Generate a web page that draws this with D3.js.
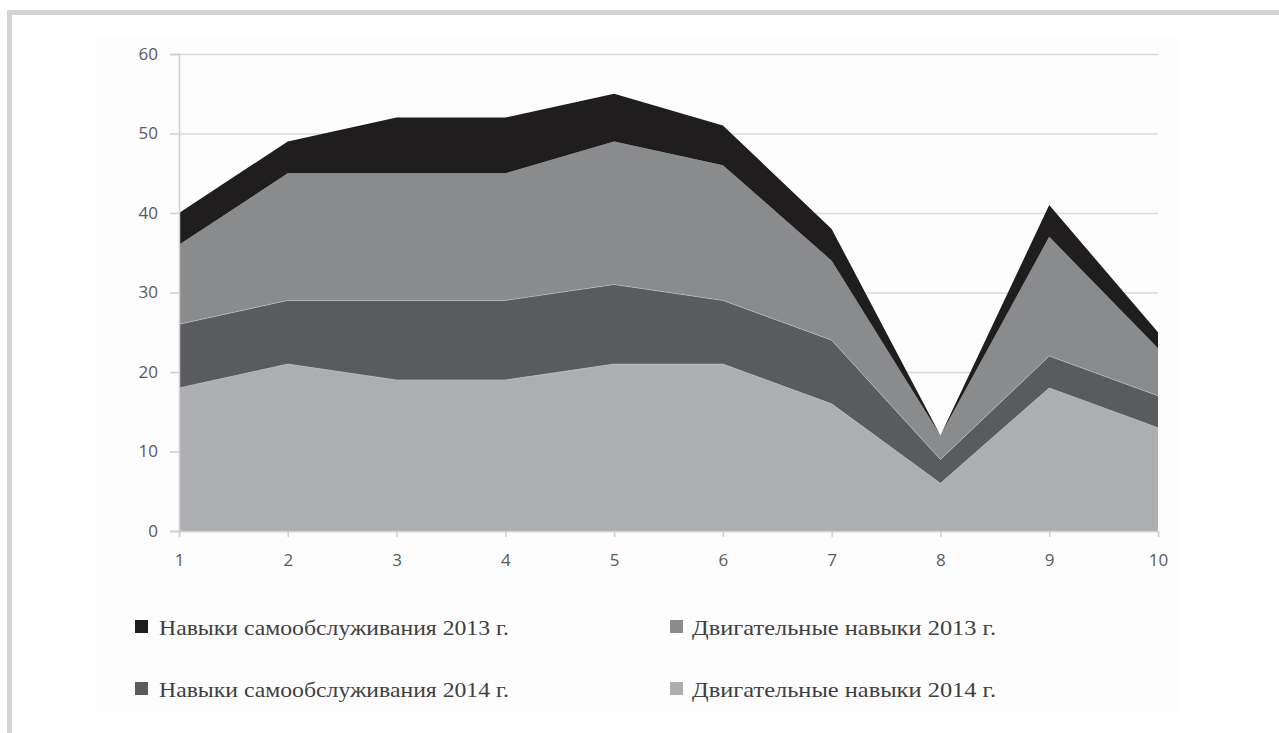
<!DOCTYPE html>
<html>
<head>
<meta charset="utf-8">
<script src="https://cdn.jsdelivr.net/npm/d3@7"></script>
<style>
  html, body { margin: 0; padding: 0; background: #ffffff; }
  svg { display: block; }
</style>
</head>
<body>
<svg id="chart" width="1279" height="733"></svg>
<script>
// Groups on the horizontal axis
const groups = [1, 2, 3, 4, 5, 6, 7, 8, 9, 10];

// Series values (stacked bottom to top)
const motor2014 = [18, 21, 19, 19, 21, 21, 16, 6, 18, 13];
const selfCare2014 = [8, 8, 10, 10, 10, 8, 8, 3, 4, 4];
const motor2013 = [10, 16, 16, 16, 18, 17, 10, 3, 15, 6];
const selfCare2013 = [4, 4, 7, 7, 6, 5, 4, 0, 4, 2];

const yTicks = [0, 10, 20, 30, 40, 50, 60];

const seriesNames = {
  motor2014: "Двигательные навыки 2014 г.",
  selfCare2014: "Навыки самообслуживания 2014 г.",
  motor2013: "Двигательные навыки 2013 г.",
  selfCare2013: "Навыки самообслуживания 2013 г."
};
const seriesColors = {
  motor2014: "#adaeb1",
  selfCare2014: "#5a5b5e",
  motor2013: "#8a8b8d",
  selfCare2013: "#1f1d1e"
};
const stackKeys = ["motor2014", "selfCare2014", "motor2013", "selfCare2013"];

const rows = groups.map((g, i) => ({
  group: g,
  motor2014: motor2014[i],
  selfCare2014: selfCare2014[i],
  motor2013: motor2013[i],
  selfCare2013: selfCare2013[i]
}));

const svg = d3.select("#chart");

// outer frame
svg.append("rect").attr("x", 0).attr("y", 0).attr("width", 1279).attr("height", 733).attr("fill", "#ffffff");
svg.append("line").attr("x1", 7).attr("x2", 1279).attr("y1", 12.5).attr("y2", 12.5)
  .attr("stroke", "#d3d4d6").attr("stroke-width", 5);
svg.append("line").attr("x1", 9.5).attr("x2", 9.5).attr("y1", 10).attr("y2", 733)
  .attr("stroke", "#d3d4d6").attr("stroke-width", 5);

// chart panel
svg.append("rect").attr("x", 97).attr("y", 36).attr("width", 1083).attr("height", 676)
  .attr("fill", "#fdfdfd");

const x = d3.scaleLinear().domain([1, 10]).range([179, 1158]);
const y = d3.scaleLinear().domain([0, 60]).range([531, 54]);

// gridlines
const gridG = svg.append("g")
  .attr("transform", `translate(${x.range()[0]},0)`)
  .call(d3.axisLeft(y).tickValues(yTicks).tickSize(-(x.range()[1] - x.range()[0])).tickFormat(""));
gridG.select(".domain").remove();
gridG.selectAll(".tick line").attr("stroke", "#d9d9d9").attr("stroke-width", 1.5);

// stacked areas
const stacked = d3.stack().keys(stackKeys)(rows);
const area = d3.area()
  .x(d => x(d.data.group))
  .y0(d => y(d[0]))
  .y1(d => y(d[1]));

svg.append("g").selectAll("path")
  .data(stacked)
  .join("path")
  .attr("d", area)
  .attr("fill", d => seriesColors[d.key]);

// faint light edge along the top of the lower layers
const topLine = d3.line().x(d => x(d.data.group)).y(d => y(d[1]));
svg.append("g").selectAll("path")
  .data(stacked.slice(0, 2))
  .join("path")
  .attr("d", topLine)
  .attr("fill", "none")
  .attr("stroke", "#d0d0d2")
  .attr("stroke-width", 0.8)
  .attr("stroke-opacity", 0.6);

// y axis
const yAxis = svg.append("g")
  .attr("transform", `translate(${x.range()[0]},0)`)
  .call(d3.axisLeft(y).tickValues(yTicks).tickSize(9).tickPadding(12));
yAxis.select(".domain").attr("stroke", "#cfcfcf").attr("stroke-width", 1.5);
yAxis.selectAll(".tick line").attr("stroke", "#cfcfcf").attr("stroke-width", 1.5);
yAxis.selectAll(".tick text")
  .attr("fill", "#5a5a5a")
  .style("font-family", "'Open Sans', sans-serif")
  .style("font-size", "17px");

// x axis
const xAxis = svg.append("g")
  .attr("transform", `translate(0,${y(0)})`)
  .call(d3.axisBottom(x).tickValues(groups).tickSize(6).tickPadding(17).tickFormat(d3.format("d")));
xAxis.select(".domain").attr("stroke", "#cfcfcf").attr("stroke-width", 1.5);
xAxis.selectAll(".tick line").attr("stroke", "#cfcfcf").attr("stroke-width", 1.5);
xAxis.selectAll(".tick text")
  .attr("fill", "#5a5a5a")
  .style("font-family", "'Open Sans', sans-serif")
  .style("font-size", "17px");

// legend
const legendItems = [
  { key: "selfCare2013", x: 135, y: 635, width: 350 },
  { key: "motor2013", x: 670, y: 635, width: 304 },
  { key: "selfCare2014", x: 135, y: 697, width: 350 },
  { key: "motor2014", x: 670, y: 697, width: 304 }
];
const lg = svg.append("g").selectAll("g")
  .data(legendItems)
  .join("g")
  .attr("transform", d => `translate(${d.x},${d.y})`);
lg.append("rect")
  .attr("x", 0).attr("y", -15).attr("width", 13).attr("height", 13)
  .attr("fill", d => seriesColors[d.key]);
lg.append("text")
  .attr("x", d => d.key.startsWith("motor") ? 22 : 24)
  .attr("y", 0)
  .attr("fill", "#404040")
  .attr("textLength", d => d.width)
  .attr("lengthAdjust", "spacingAndGlyphs")
  .style("font-family", "'Liberation Serif', 'Times New Roman', serif")
  .style("font-size", "22px")
  .text(d => seriesNames[d.key]);
</script>
</body>
</html>
